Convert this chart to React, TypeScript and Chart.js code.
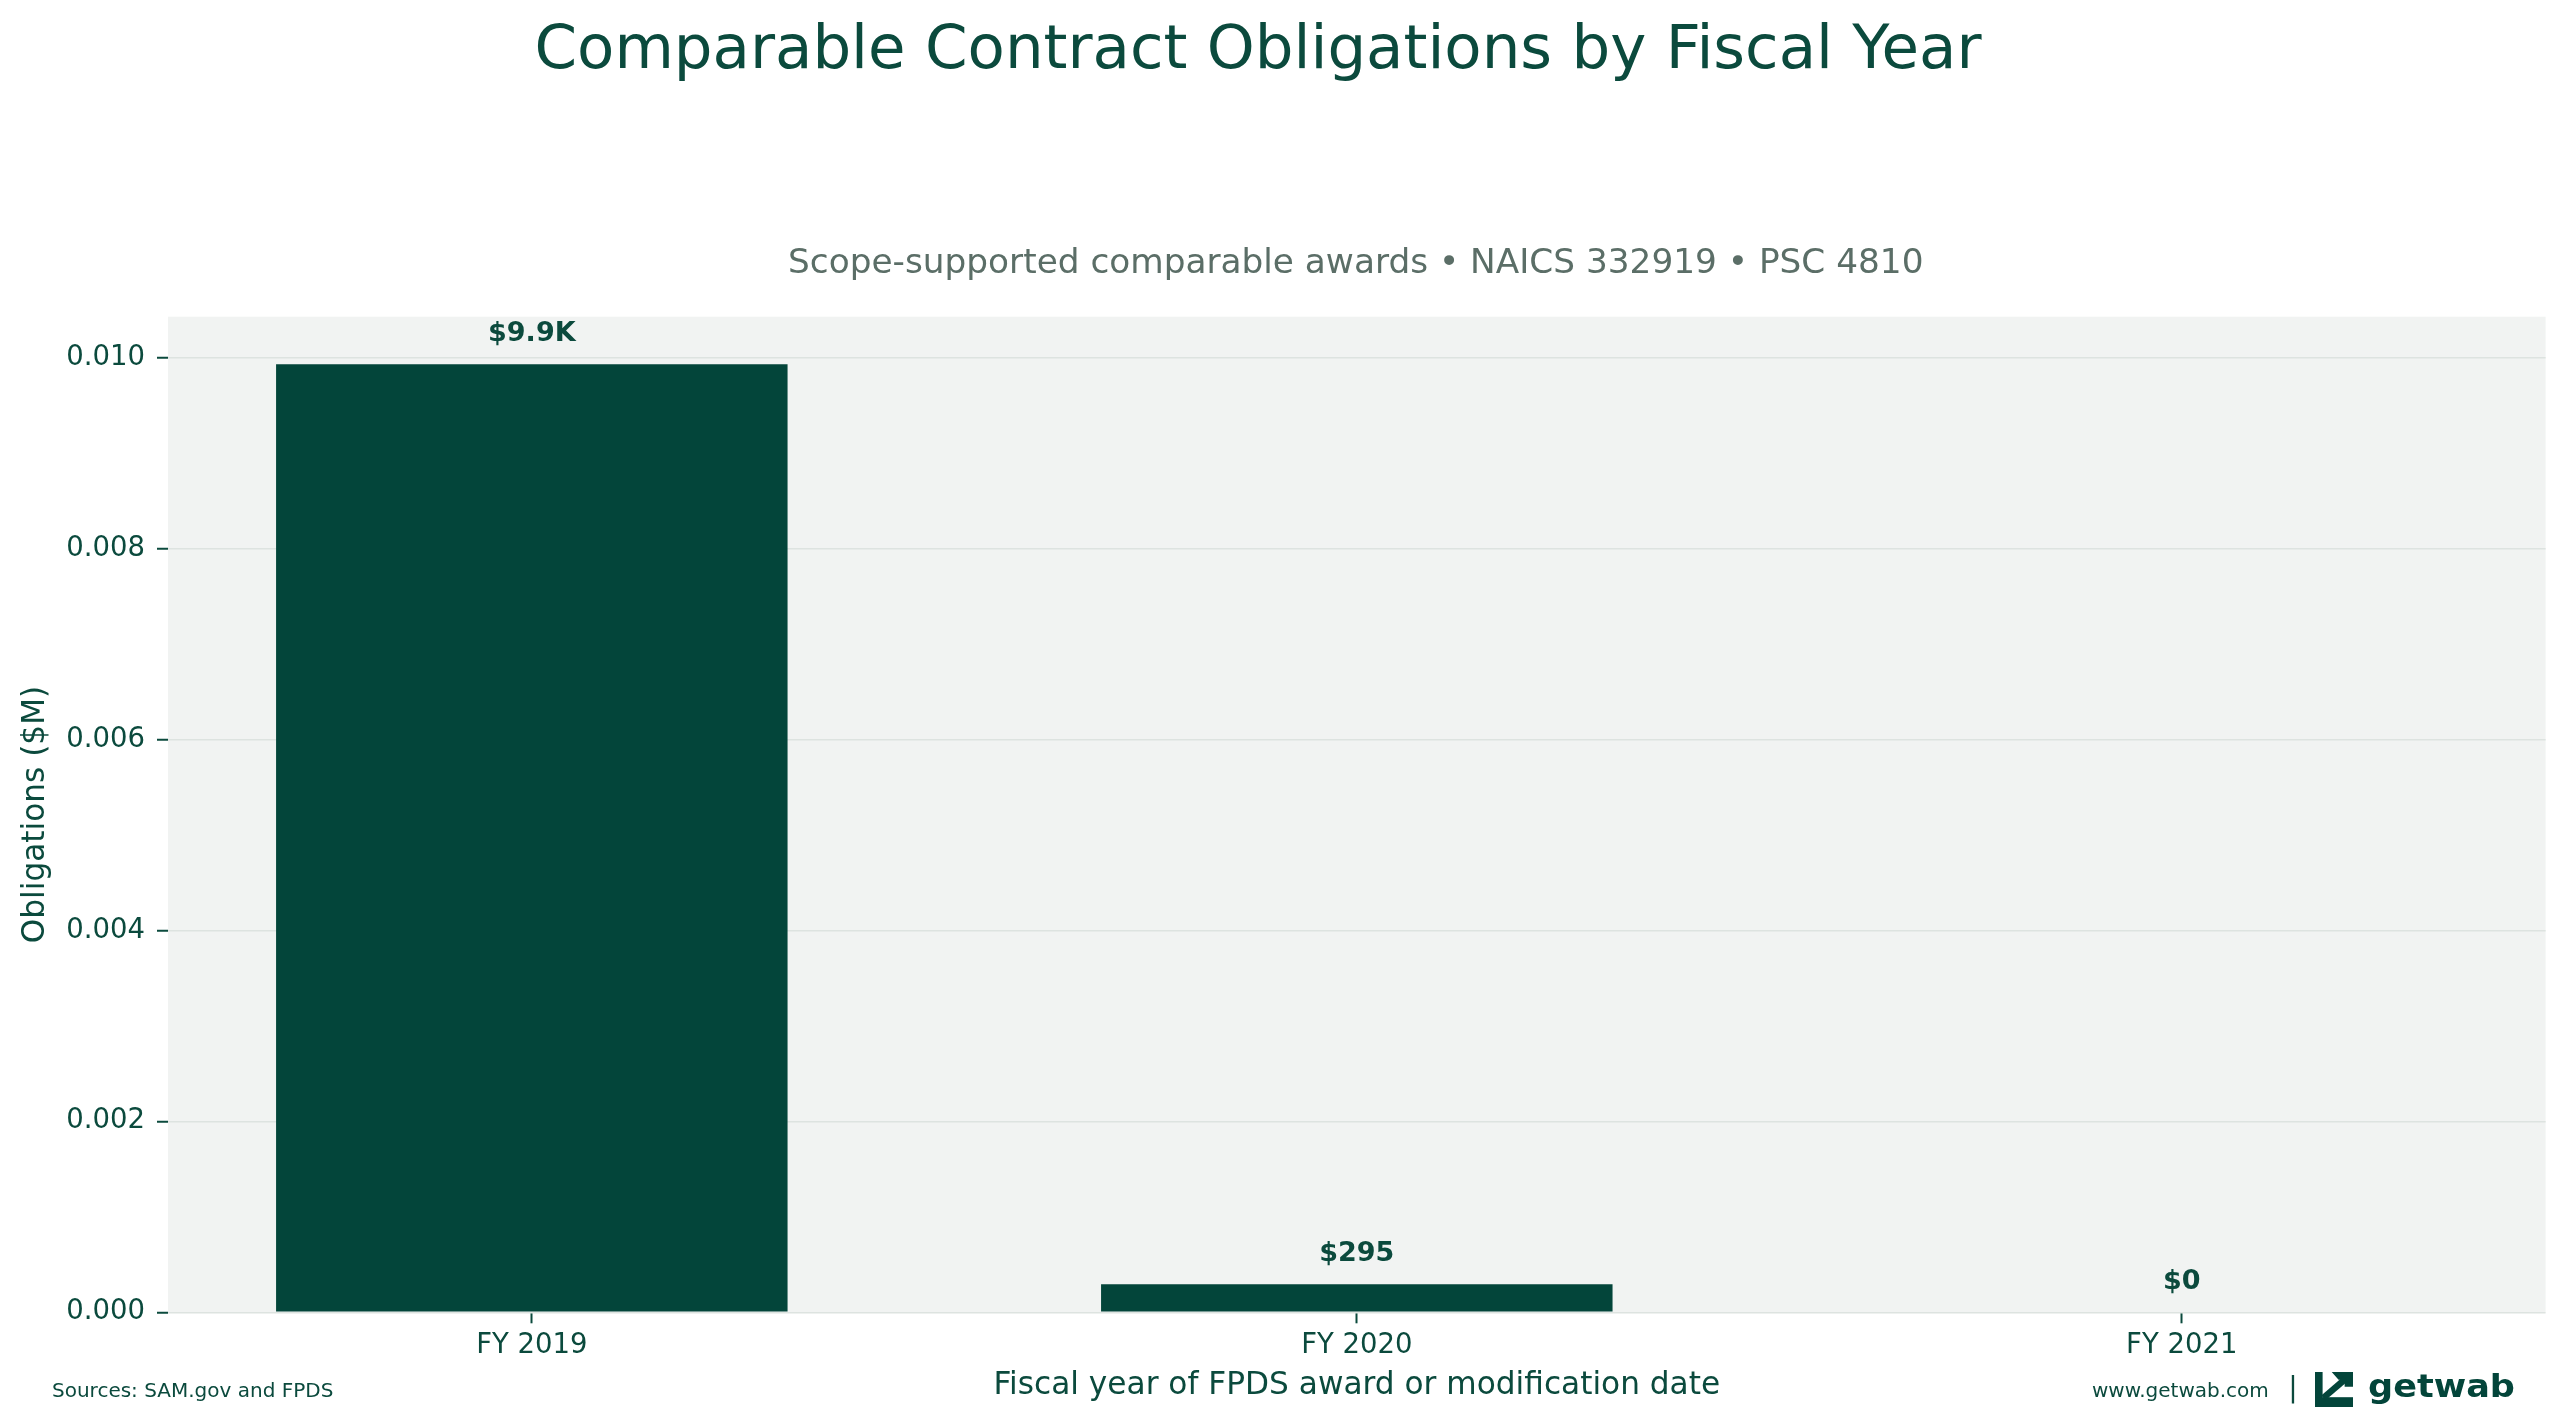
import React, { useEffect, useRef } from 'react'
import { Chart, registerables } from 'chart.js'
Chart.register(...registerables)

const categories = ['FY 2019', 'FY 2020', 'FY 2021']
const obligations = [0.00993, 0.000295, 0] // $M
const yTickValues = [0, 0.002, 0.004, 0.006, 0.008, 0.01]

const W = 2566
const H = 1427
const DARK = '#03453a'
const TEXT = '#0b4a3d'
const FONT = "'DejaVu Sans', sans-serif"

const fmtDollars = (v: number) => {
  const d = v * 1e6
  if (d >= 1000) return `$${(d / 1000).toFixed(1)}K`
  return `$${Math.round(d)}`
}

const plotBg = {
  id: 'plotBg',
  beforeDraw(chart: any) {
    const { ctx, chartArea: a } = chart
    ctx.save()
    ctx.fillStyle = '#f1f3f2'
    ctx.fillRect(a.left, a.top, a.right - a.left, a.bottom - a.top)
    ctx.restore()
  }
}

const barLabels = {
  id: 'barLabels',
  afterDatasetsDraw(chart: any) {
    const { ctx } = chart
    const meta = chart.getDatasetMeta(0)
    ctx.save()
    ctx.font = `bold 27px ${FONT}`
    ctx.fillStyle = TEXT
    ctx.textAlign = 'center'
    ctx.textBaseline = 'alphabetic'
    meta.data.forEach((bar: any, i: number) => {
      ctx.fillText(fmtDollars(obligations[i]), bar.x, bar.y - 23)
    })
    ctx.restore()
  }
}

const decorations = {
  id: 'decorations',
  afterDraw(chart: any) {
    const { ctx, chartArea: a } = chart
    ctx.save()
    ctx.textBaseline = 'alphabetic'

    // title + subtitle
    ctx.fillStyle = TEXT
    ctx.textAlign = 'center'
    ctx.font = `61px ${FONT}`
    ctx.fillText('Comparable Contract Obligations by Fiscal Year', 1258, 68)
    ctx.fillStyle = '#5b6e67'
    ctx.font = `34.3px ${FONT}`
    ctx.fillText('Scope-supported comparable awards • NAICS 332919 • PSC 4810', (a.left + a.right) / 2 - 1, 273)

    // footer left
    ctx.fillStyle = TEXT
    ctx.textAlign = 'left'
    ctx.font = `20px ${FONT}`
    ctx.fillText('Sources: SAM.gov and FPDS', 52, 1397)

    // footer right
    ctx.fillText('www.getwab.com', 2092, 1397)
    ctx.textAlign = 'center'
    ctx.font = `28px ${FONT}`
    ctx.fillText('|', 2293, 1397)

    // logo icon
    const x0 = 2315, y0 = 1372, w = 38, h = 35
    ctx.fillStyle = DARK
    ctx.fillRect(x0, y0, w * 0.2, h)
    ctx.fillRect(x0, y0 + h * 0.72, w, h * 0.28)
    ctx.beginPath()
    ctx.moveTo(x0 + w * 0.44, y0)
    ctx.lineTo(x0 + w, y0)
    ctx.lineTo(x0 + w, y0 + h * 0.42)
    ctx.lineTo(x0 + w * 0.78, y0 + h * 0.42)
    ctx.lineTo(x0 + w * 0.78, y0 + h * 0.22)
    ctx.lineTo(x0 + w * 0.62, y0 + h * 0.22)
    ctx.closePath()
    ctx.fill()
    ctx.strokeStyle = DARK
    ctx.lineWidth = w * 0.17
    ctx.lineCap = 'butt'
    ctx.beginPath()
    ctx.moveTo(x0 + w * 0.8, y0 + h * 0.2)
    ctx.lineTo(x0 + w * 0.22, y0 + h * 0.74)
    ctx.stroke()

    // logo wordmark
    ctx.font = `600 30px ${FONT}`
    ctx.textAlign = 'left'
    ctx.fillStyle = DARK
    const word = 'getwab'
    const mw = ctx.measureText(word).width
    ctx.translate(2368, 1397)
    ctx.scale(147 / mw, 1.05)
    ctx.fillText(word, 0, 0)
    ctx.restore()
  }
}

export default function App() {
  const ref = useRef<HTMLCanvasElement | null>(null)
  useEffect(() => {
    document.body.style.margin = '0'
    if (!ref.current) return
    const ctx = ref.current.getContext('2d')!
    const chart = new Chart(ctx, {
      type: 'bar',
      data: {
        datasets: [{
          label: 'Obligations ($M)',
          data: obligations.map((v, i) => ({ x: i, y: v })),
          backgroundColor: DARK,
          borderWidth: 0,
          barPercentage: 0.62,
          categoryPercentage: 1
        }]
      },
      options: {
        responsive: false,
        devicePixelRatio: 1,
        animation: false,
        layout: { padding: { top: 316.7, right: W - 2545.6, left: 0, bottom: 0 } },
        plugins: { legend: { display: false }, tooltip: { enabled: false } },
        scales: {
          x: {
            type: 'linear',
            min: -0.441,
            max: 2.441,
            offset: false,
            afterBuildTicks: (s: any) => { s.ticks = categories.map((_, i) => ({ value: i })) },
            afterFit: (s: any) => { s.height = H - 1312.3 },
            ticks: {
              autoSkip: false,
              maxRotation: 0,
              padding: 6,
              color: TEXT,
              font: { family: FONT, size: 27.5 },
              callback: (v: any) => categories[v] ?? ''
            },
            grid: { drawOnChartArea: false, drawTicks: true, tickLength: 11, tickColor: TEXT, tickWidth: 2, offset: false },
            border: { display: false },
            title: {
              display: true,
              text: 'Fiscal year of FPDS award or modification date',
              color: TEXT,
              font: { family: FONT, size: 31.2 },
              padding: { bottom: 22, top: 0 }
            }
          },
          y: {
            type: 'linear',
            min: 0,
            max: 0.010427,
            afterBuildTicks: (s: any) => { s.ticks = yTickValues.map(value => ({ value })) },
            afterFit: (s: any) => { s.width = 168 },
            ticks: {
              padding: 12,
              color: TEXT,
              font: { family: FONT, size: 27.5 },
              callback: (v: any) => Number(v).toFixed(3)
            },
            grid: { color: '#dde3e0', lineWidth: 1.5, tickLength: 11, tickColor: TEXT, tickWidth: 2 },
            border: { display: false },
            title: {
              display: true,
              text: 'Obligations ($M)',
              color: TEXT,
              font: { family: FONT, size: 31.2 },
              padding: { top: 17, bottom: 0 }
            }
          }
        }
      },
      plugins: [plotBg, barLabels, decorations]
    })
    return () => chart.destroy()
  }, [])
  return (
    <div style={{ width: W, height: H }}>
      <canvas ref={ref} width={W} height={H} style={{ display: 'block', width: W, height: H }} />
    </div>
  )
}
